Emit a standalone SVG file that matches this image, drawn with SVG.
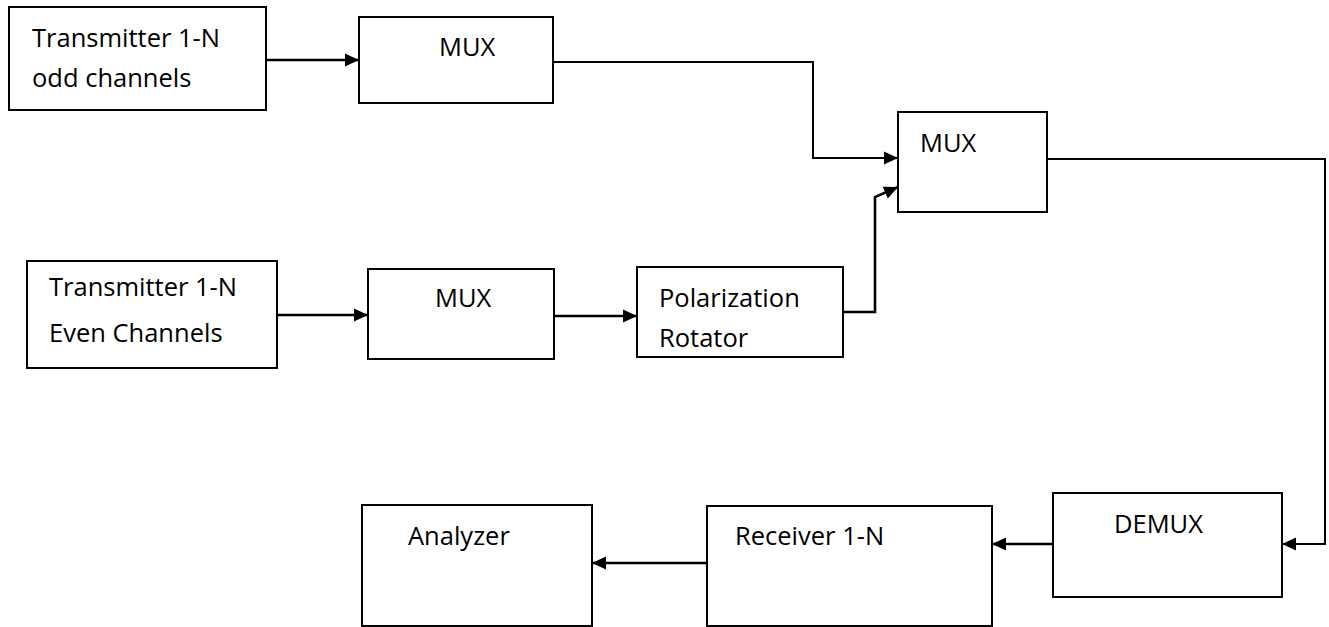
<svg xmlns="http://www.w3.org/2000/svg" width="1329" height="627" viewBox="0 0 1329 627">
  <style>
    .box { fill: #ffffff; stroke: #000000; stroke-width: 2; }
    .lbl { font-family: "Open Sans", "Liberation Sans", sans-serif; font-size: 25.5px; fill: #000000; }
    .wire { fill: none; stroke: #000000; stroke-width: 2; }
    .wire-thick { fill: none; stroke: #000000; stroke-width: 2.6; }
  </style>
  <defs>
    <marker id="arrow" markerUnits="userSpaceOnUse" markerWidth="14" markerHeight="14" refX="14" refY="7" orient="auto">
      <path d="M0,0.5 L14,7 L0,13.5 z" fill="#000000"/>
    </marker>
  </defs>
  <rect x="0" y="0" width="1329" height="627" fill="#ffffff"/>

  <g id="connectors">
    <path class="wire-thick" d="M266,60 H359" marker-end="url(#arrow)"/>
    <path class="wire" d="M553,62 H813 V158 H898" marker-end="url(#arrow)"/>
    <path class="wire-thick" d="M277,315 H368" marker-end="url(#arrow)"/>
    <path class="wire-thick" d="M554,316 H637" marker-end="url(#arrow)"/>
    <path class="wire-thick" d="M843,312 H875 V197 L898,187" marker-end="url(#arrow)"/>
    <path class="wire" d="M1047,159 H1325 V544 H1282" marker-end="url(#arrow)"/>
    <path class="wire-thick" d="M1053,544 H992" marker-end="url(#arrow)"/>
    <path class="wire-thick" d="M707,563 H592" marker-end="url(#arrow)"/>
  </g>

  <g id="tx-odd">
    <rect class="box" x="9" y="7" width="257" height="103"/>
    <text class="lbl" x="32" y="47">Transmitter 1-N</text>
    <text class="lbl" x="32" y="87">odd channels</text>
  </g>

  <g id="mux-odd">
    <rect class="box" x="359" y="17" width="194" height="86"/>
    <text class="lbl" x="439" y="56">MUX</text>
  </g>

  <g id="mux-combine">
    <rect class="box" x="898" y="112" width="149" height="100"/>
    <text class="lbl" x="920" y="152">MUX</text>
  </g>

  <g id="tx-even">
    <rect class="box" x="27" y="261" width="250" height="107"/>
    <text class="lbl" x="49" y="296">Transmitter 1-N</text>
    <text class="lbl" x="49" y="342">Even Channels</text>
  </g>

  <g id="mux-even">
    <rect class="box" x="368" y="269" width="186" height="90"/>
    <text class="lbl" x="435" y="307">MUX</text>
  </g>

  <g id="rotator">
    <rect class="box" x="637" y="267" width="206" height="90"/>
    <text class="lbl" x="659" y="307">Polarization</text>
    <text class="lbl" x="659" y="347">Rotator</text>
  </g>

  <g id="demux">
    <rect class="box" x="1053" y="493" width="229" height="104"/>
    <text class="lbl" x="1114" y="533">DEMUX</text>
  </g>

  <g id="receiver">
    <rect class="box" x="707" y="506" width="285" height="120"/>
    <text class="lbl" x="735" y="545">Receiver 1-N</text>
  </g>

  <g id="analyzer">
    <rect class="box" x="362" y="505" width="230" height="121"/>
    <text class="lbl" x="408" y="545">Analyzer</text>
  </g>
</svg>
